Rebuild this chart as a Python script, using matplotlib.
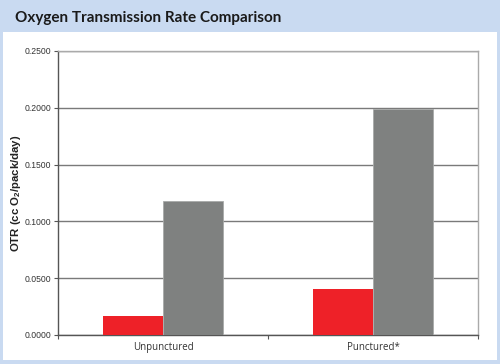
import matplotlib
matplotlib.use("Agg")
import matplotlib.pyplot as plt
from matplotlib.patches import Rectangle
import numpy as np

title = "Oxygen Transmission Rate Comparison"
categories = ["Unpunctured", "Punctured*"]
series_red = [0.0163, 0.0405]
series_gray = [0.1178, 0.1990]
yticks = [0.0, 0.05, 0.10, 0.15, 0.20, 0.25]
ylabel = "OTR (cc O$_\\mathregular{2}$/pack/day)"

W, H = 500, 364
fig = plt.figure(figsize=(W / 100, H / 100), dpi=100)
fig.patch.set_facecolor("white")

blue = "#c9daf1"
fig.add_artist(Rectangle((0, 0), 1, 1, transform=fig.transFigure, facecolor=blue, edgecolor="none", zorder=-10))
fig.add_artist(Rectangle((3 / W, 4 / H), (W - 6) / W, (H - 32 - 4) / H, transform=fig.transFigure,
                         facecolor="white", edgecolor="none", zorder=-9))
fig.text(15 / W, 1 - 22 / H, title, fontsize=11, family="Lato", fontweight="bold",
         color="#1a1a1a", va="baseline", ha="left")

ax = fig.add_axes([58 / W, (H - 335) / H, (478 - 58) / W, (335 - 51) / H])
x = np.arange(len(categories))
bw = 60 / 210
ax.bar(x - bw / 2, series_red, width=bw, color="#ee2128", edgecolor="none", zorder=3)
ax.bar(x + bw / 2, series_gray, width=bw, color="#7f8180", edgecolor="#a8aaa9", linewidth=0.6, zorder=3)

ax.set_xlim(-0.5, 1.5)
ax.set_ylim(0, 0.25)
ax.set_yticks(yticks)
ax.set_yticklabels([f"{v:.4f}" for v in yticks], family="Liberation Sans", fontsize=6.2, color="#333333")
ax.yaxis.grid(True, color="#7a7a7a", linewidth=1.0, zorder=0)
ax.set_axisbelow(True)

ax.set_xticks([-0.5, 0.5, 1.5])
ax.set_xticklabels([])
ax.set_xticks(x, minor=True)
ax.set_xticklabels(categories, minor=True, family="Open Sans", fontsize=7, color="#333333")
ax.tick_params(axis="x", which="minor", length=0, pad=5)
ax.tick_params(axis="x", which="major", length=3, color="#555555", direction="out")
ax.tick_params(axis="y", length=3, color="#555555", direction="out", pad=2)

for s in ["left", "bottom"]:
    ax.spines[s].set_color("#555555")
    ax.spines[s].set_linewidth(1.0)
for s in ["right", "top"]:
    ax.spines[s].set_color("#aaaaaa")
    ax.spines[s].set_linewidth(1.0)

ax.set_ylabel(ylabel, family="Liberation Sans", fontsize=8.2, fontweight="bold", color="#222222")
ax.yaxis.set_label_coords((16 - 58) / (478 - 58), 0.5)
ax.yaxis.label.set_va("center")

fig.savefig("out.png", dpi=100)
